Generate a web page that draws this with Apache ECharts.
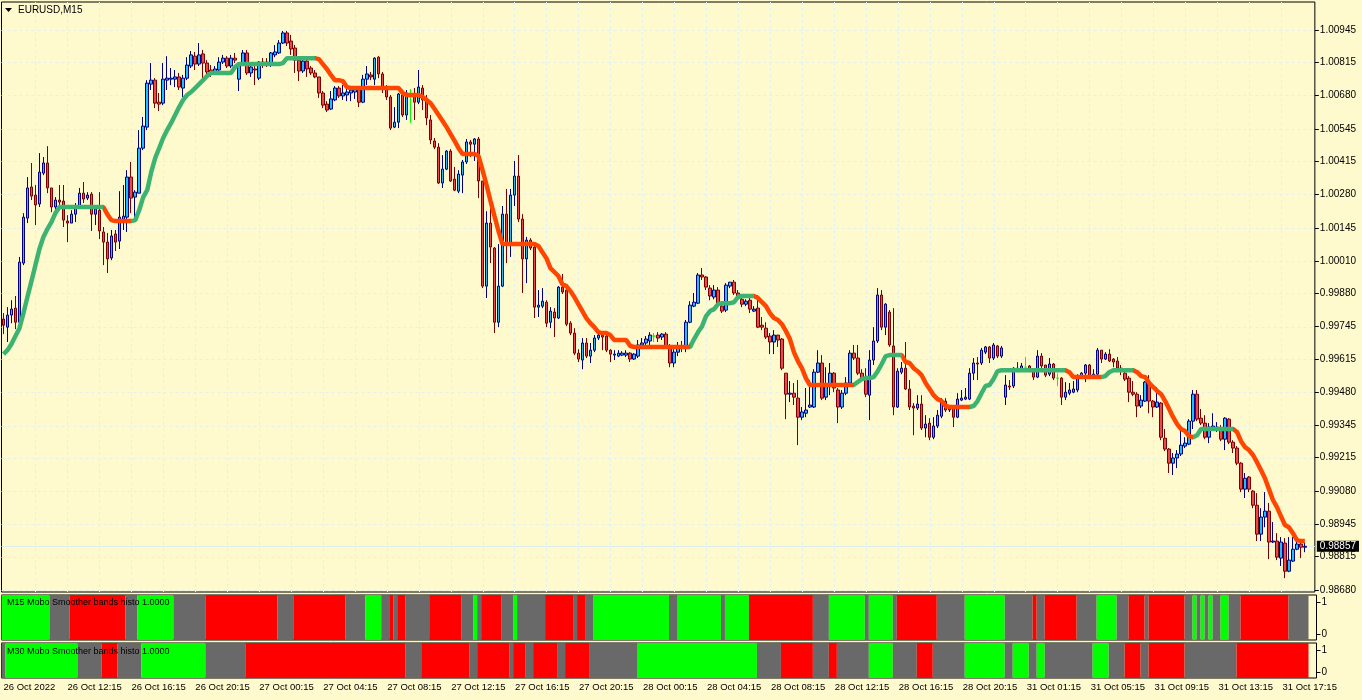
<!DOCTYPE html>
<html><head><meta charset="utf-8">
<script src="https://cdn.jsdelivr.net/npm/echarts@6/dist/echarts.min.js"></script>
<style>html,body{margin:0;padding:0;background:#FFFACD;}#c{width:1362px;height:700px;}</style>
</head><body><div id="c"></div>
<script>
// ---- DATA (prices in points, 1 point = 0.00001) ----
const priceTicks = [1.00945,1.00815,1.00680,1.00545,1.00415,1.00280,1.00145,1.00010,0.99880,0.99745,0.99615,0.99480,0.99345,0.99215,0.99080,0.98945,0.98815,0.98680];
const timeLabels = ["26 Oct 2022","26 Oct 12:15","26 Oct 16:15","26 Oct 20:15","27 Oct 00:15","27 Oct 04:15","27 Oct 08:15","27 Oct 12:15","27 Oct 16:15","27 Oct 20:15","28 Oct 00:15","28 Oct 04:15","28 Oct 08:15","28 Oct 12:15","28 Oct 16:15","28 Oct 20:15","31 Oct 01:15","31 Oct 05:15","31 Oct 09:15","31 Oct 13:15","31 Oct 17:15"];
const lastPrice = 0.98857;

const openPts = [
99776,99743,99792,99820,99763,100002,100184,100310,100277,100241,
100366,100407,100306,100229,100257,100253,100172,100164,100200,100225,
100285,100265,100281,100200,100216,100128,100087,100023,100120,100091,
100176,100188,100350,100269,100285,100467,100552,100726,100742,100653,
100649,100742,100746,100746,100755,100710,100750,100799,100839,100807,
100848,100811,100783,100771,100783,100815,100831,100799,100831,100746,
100811,100852,100771,100787,100750,100815,100815,100803,100844,100852,
100892,100933,100900,100872,100823,100779,100819,100791,100771,100755,
100690,100645,100625,100662,100710,100678,100682,100690,100694,100706,
100653,100746,100763,100746,100835,100767,100714,100674,100552,100572,
100682,100601,100674,100682,100653,100710,100662,100581,100496,100471,
100326,100382,100455,100342,100293,100358,100411,100492,100483,100504,
100334,99909,100164,100063,99763,99909,100200,100079,100277,100354,
100180,100019,100095,100067,99824,99828,99844,99763,99804,99780,
99905,99893,99759,99719,99638,99610,99679,99626,99650,99699,
99711,99707,99650,99630,99626,99630,99630,99638,99614,99626,
99671,99679,99687,99707,99711,99703,99715,99667,99598,99642,
99667,99659,99763,99828,99840,99954,99946,99901,99865,99893,
99828,99812,99909,99925,99881,99856,99836,99852,99808,99820,
99751,99739,99707,99683,99711,99695,99557,99472,99476,99456,
99379,99395,99420,99420,99561,99598,99460,99505,99557,99489,
99420,99476,99517,99638,99618,99557,99537,99468,99610,99687,
99873,99743,99804,99667,99420,99561,99577,99493,99424,99416,
99432,99335,99355,99298,99343,99383,99444,99408,99416,99379,
99448,99452,99452,99557,99598,99598,99642,99663,99618,99667,
99626,99460,99505,99505,99577,99573,99581,99586,99573,99541,
99626,99590,99553,99594,99537,99537,99460,99476,99480,99489,
99545,99557,99590,99545,99553,99650,99614,99634,99614,99606,
99577,99557,99537,99480,99472,99424,99444,99521,99444,99420,
99436,99294,99250,99193,99214,99230,99262,99270,99363,99472,
99375,99355,99298,99335,99327,99331,99290,99371,99278,99254,
99193,99088,99137,99080,99023,98906,98975,98999,98874,98878,
98809,98870,98756,98797,98845,98866,98853];

const highPts = [
99800,99824,99852,99869,100027,100204,100350,100407,100318,100447,
100431,100475,100306,100269,100318,100318,100196,100216,100245,100306,
100330,100289,100289,100221,100289,100148,100124,100136,100136,100293,
100318,100378,100411,100297,100540,100593,100742,100811,100750,100690,
100811,100839,100791,100783,100771,100763,100835,100860,100856,100892,
100864,100823,100803,100799,100835,100844,100839,100844,100852,100815,
100864,100864,100811,100811,100819,100831,100831,100856,100884,100904,
100941,100941,100925,100884,100827,100827,100839,100799,100783,100755,
100698,100657,100698,100718,100718,100722,100710,100714,100714,100714,
100763,100799,100775,100835,100839,100775,100722,100682,100633,100690,
100694,100702,100706,100710,100783,100722,100682,100601,100508,100487,
100439,100459,100463,100391,100378,100419,100504,100500,100508,100512,
100334,100212,100233,100067,100079,100233,100302,100302,100415,100439,
100200,100108,100103,100075,99893,99901,99852,99824,99820,99909,
99958,99901,99767,99739,99654,99699,99699,99679,99711,99731,
99719,99719,99654,99650,99650,99646,99650,99642,99638,99691,
99699,99707,99723,99719,99723,99719,99723,99675,99654,99683,
99687,99772,99848,99881,99962,99982,99950,99913,99913,99905,
99832,99921,99925,99934,99893,99865,99856,99861,99828,99873,
99784,99763,99719,99731,99711,99699,99557,99525,99517,99529,
99420,99497,99529,99573,99650,99630,99581,99598,99561,99497,
99489,99541,99650,99671,99671,99573,99577,99650,99743,99901,
99893,99840,99812,99820,99577,99602,99683,99529,99436,99468,
99468,99387,99375,99379,99408,99456,99456,99428,99428,99476,
99489,99497,99577,99618,99622,99659,99667,99667,99679,99671,
99667,99549,99529,99581,99602,99598,99622,99590,99577,99650,
99638,99590,99618,99598,99557,99541,99521,99517,99525,99553,
99561,99594,99594,99573,99659,99650,99642,99654,99618,99622,
99590,99561,99545,99525,99480,99468,99525,99549,99448,99501,
99440,99331,99254,99234,99246,99323,99298,99371,99489,99489,
99412,99387,99355,99395,99359,99347,99379,99375,99286,99262,
99197,99153,99141,99084,99072,99011,99076,99032,98955,98910,
98894,98890,98894,98894,98882,98886,98870];

const lowPts = [
99715,99683,99759,99735,99751,99994,100164,100257,100156,100229,
100358,100285,100208,100208,100216,100148,100087,100164,100168,100221,
100245,100257,100132,100156,100099,99994,99962,100014,100051,100059,
100136,100128,100204,100176,100285,100459,100540,100702,100629,100617,
100641,100702,100722,100714,100702,100674,100742,100791,100783,100799,
100750,100763,100755,100763,100775,100807,100791,100791,100811,100698,
100807,100763,100755,100722,100742,100791,100795,100795,100835,100848,
100888,100880,100844,100771,100738,100771,100755,100763,100750,100670,
100629,100613,100621,100657,100670,100662,100657,100657,100666,100633,
100649,100722,100742,100722,100750,100690,100662,100540,100548,100548,
100593,100581,100569,100581,100645,100621,100560,100483,100463,100322,
100306,100378,100330,100293,100285,100285,100403,100431,100415,100265,
99901,99861,100002,99719,99743,99905,100002,100027,100233,100168,
99881,99921,100055,99780,99784,99820,99743,99739,99703,99776,
99877,99747,99711,99630,99602,99573,99618,99598,99642,99691,
99650,99642,99602,99610,99622,99626,99622,99602,99610,99618,
99663,99671,99671,99683,99683,99691,99659,99581,99581,99626,
99642,99642,99759,99824,99836,99934,99893,99852,99856,99832,
99800,99804,99901,99873,99852,99824,99828,99800,99804,99739,
99731,99695,99634,99634,99663,99569,99371,99440,99428,99266,
99367,99379,99416,99416,99557,99448,99448,99468,99480,99355,
99412,99468,99509,99610,99549,99529,99460,99367,99590,99679,
99731,99711,99663,99387,99416,99553,99489,99408,99306,99408,
99327,99298,99286,99290,99335,99375,99400,99400,99339,99375,
99444,99448,99448,99529,99529,99590,99634,99598,99610,99618,
99618,99428,99489,99497,99561,99569,99569,99561,99529,99537,
99577,99541,99545,99529,99505,99428,99448,99468,99476,99480,
99537,99521,99533,99537,99549,99598,99610,99602,99581,99569,
99549,99525,99440,99464,99379,99416,99440,99395,99379,99416,
99286,99242,99153,99145,99173,99222,99254,99266,99331,99363,
99347,99290,99274,99331,99319,99282,99246,99270,99234,99185,
99076,99052,99076,99011,98878,98878,98934,98805,98870,98801,
98777,98728,98752,98793,98841,98809,98833];

const closePts = [
99751,99792,99816,99763,100006,100188,100306,100273,100237,100370,
100407,100306,100229,100257,100249,100176,100164,100200,100225,100285,
100261,100277,100200,100221,100132,100087,100019,100112,100087,100188,
100192,100350,100265,100289,100467,100556,100730,100742,100649,100645,
100746,100750,100750,100755,100714,100750,100803,100844,100807,100844,
100811,100775,100771,100787,100815,100831,100799,100831,100823,100811,
100852,100771,100795,100783,100815,100803,100807,100852,100856,100892,
100933,100892,100868,100823,100779,100819,100787,100771,100755,100690,
100641,100621,100666,100710,100678,100690,100694,100702,100706,100653,
100746,100767,100755,100831,100767,100714,100674,100548,100572,100686,
100601,100690,100674,100653,100714,100662,100589,100500,100471,100326,
100382,100455,100334,100297,100362,100411,100492,100483,100504,100334,
99909,100164,100067,99763,99909,100200,100079,100277,100354,100180,
100019,100095,100063,99824,99832,99848,99759,99808,99780,99905,
99885,99755,99719,99638,99614,99679,99626,99650,99699,99711,
99703,99650,99634,99634,99638,99638,99638,99614,99634,99671,
99679,99695,99711,99707,99699,99715,99667,99598,99642,99663,
99659,99763,99832,99844,99954,99946,99905,99869,99893,99840,
99808,99913,99925,99881,99861,99836,99848,99816,99816,99743,
99743,99703,99683,99711,99691,99577,99472,99476,99460,99379,
99400,99408,99428,99561,99598,99456,99509,99557,99497,99420,
99476,99517,99638,99618,99557,99537,99472,99610,99687,99873,
99743,99836,99671,99420,99565,99577,99493,99420,99416,99432,
99335,99351,99298,99343,99387,99440,99408,99416,99379,99452,
99456,99460,99557,99598,99594,99650,99663,99618,99671,99626,
99659,99509,99501,99577,99569,99586,99581,99573,99541,99626,
99586,99549,99594,99537,99537,99460,99480,99489,99493,99545,
99557,99590,99541,99553,99650,99614,99634,99606,99602,99577,
99565,99533,99480,99472,99424,99448,99521,99444,99420,99440,
99298,99250,99193,99214,99230,99266,99274,99363,99472,99371,
99355,99298,99339,99343,99339,99290,99375,99278,99254,99193,
99088,99132,99088,99023,98906,98975,98999,98874,98878,98813,
98874,98756,98801,98845,98866,98853,98857];

const smootherPts = [
99634,99650,99675,99707,99739,99800,99865,99929,99994,100059,
100108,100140,100168,100204,100229,100229,100229,100229,100229,100229,
100229,100229,100229,100229,100229,100229,100200,100176,100172,100172,
100172,100172,100172,100176,100216,100269,100297,100370,100427,100467,
100508,100540,100569,100601,100633,100662,100682,100694,100710,100726,
100742,100759,100771,100771,100771,100771,100771,100771,100795,100807,
100807,100807,100807,100807,100807,100807,100807,100807,100807,100807,
100811,100831,100831,100831,100831,100831,100831,100831,100831,100827,
100807,100787,100763,100742,100742,100738,100714,100710,100710,100710,
100710,100710,100710,100710,100710,100710,100710,100710,100710,100710,
100690,100682,100682,100682,100682,100674,100662,100649,100625,100601,
100577,100552,100524,100496,100467,100443,100443,100443,100443,100435,
100378,100318,100253,100192,100132,100079,100079,100079,100079,100079,
100079,100079,100079,100079,100071,100046,100022,99982,99966,99950,
99917,99909,99889,99865,99836,99808,99780,99759,99743,99723,
99719,99719,99711,99691,99691,99691,99691,99667,99663,99663,
99663,99663,99663,99663,99663,99663,99663,99663,99663,99663,
99663,99663,99663,99695,99723,99747,99788,99808,99816,99836,
99840,99840,99840,99844,99865,99869,99869,99869,99869,99861,
99844,99828,99800,99780,99772,99755,99727,99695,99642,99606,
99577,99537,99509,99509,99509,99509,99509,99509,99509,99509,
99509,99509,99509,99509,99521,99533,99537,99537,99541,99565,
99594,99626,99630,99630,99630,99630,99602,99598,99577,99565,
99549,99517,99493,99468,99452,99444,99424,99420,99420,99420,
99420,99420,99420,99424,99444,99476,99505,99509,99533,99565,
99569,99569,99569,99569,99569,99569,99569,99569,99569,99569,
99569,99569,99569,99569,99569,99569,99569,99561,99541,99541,
99541,99541,99541,99541,99541,99541,99545,99561,99569,99569,
99569,99569,99569,99569,99561,99545,99541,99517,99501,99485,
99472,99444,99412,99379,99351,99331,99323,99302,99298,99306,
99331,99331,99331,99331,99331,99331,99331,99331,99331,99319,
99282,99258,99246,99226,99197,99165,99132,99088,99044,99015,
98979,98943,98934,98910,98882,98878,98878];

// histogram states as runs: [state, bars]  1 = up (green), -1 = down (red), 0 = neutral (gray)
const m15Runs = [[1,12],[0,5],[-1,14],[0,3],[1,9],[0,8],[-1,18],[0,4],[-1,13],[0,5],[1,4],[0,2],[-1,1],[0,1],[-1,2],[0,6],[-1,8],[0,3],[1,1],[0,1],[-1,5],[0,3],[1,1],[0,7],[-1,7],[0,1],[-1,2],[0,2],[1,19],[0,2],[1,11],[0,1],[1,6],[-1,16],[0,4],[1,9],[0,1],[1,6],[0,1],[-1,10],[0,7],[1,10],[0,7],[-1,1],[0,2],[-1,8],[0,5],[1,5],[0,3],[-1,4],[0,1],[-1,9],[0,2],[1,1],[0,1],[1,1],[0,1],[1,1],[0,2],[1,2],[0,3],[-1,12],[0,5]];
const m30Runs = [[0,1],[1,18],[0,6],[-1,4],[0,6],[1,16],[0,10],[-1,40],[0,4],[-1,12],[0,2],[-1,8],[0,1],[-1,3],[0,2],[-1,6],[0,2],[-1,6],[0,12],[1,30],[0,6],[-1,8],[0,4],[-1,2],[0,8],[1,6],[0,6],[-1,4],[0,8],[1,10],[0,2],[1,4],[0,2],[1,2],[0,12],[1,4],[0,4],[-1,4],[0,2],[-1,9],[0,13],[-1,18]];

// ---- BUILD ----
const N_SLOTS = 329;
const cats = Array.from({length: N_SLOTS}, (_, i) => String(i));
const P = v => v / 1e5;
const candles = openPts.map((o, i) => [P(o), P(closePts[i]), P(lowPts[i]), P(highPts[i])]);
const smoother = smootherPts.map(P);

const GREEN = '#3CB371', ORANGE = '#FF4500';
const state = [];
smoother.forEach((v, i) => {
  if (i === 0) state.push(1);
  else if (v > smoother[i-1]) state.push(1);
  else if (v < smoother[i-1]) state.push(-1);
  else state.push(state[i-1]);
});
const pieces = [];
let a = 0;
for (let i = 1; i <= state.length; i++) {
  if (i === state.length || state[i] !== state[a]) {
    pieces.push({gt: a === 0 ? -10 : a - 1, lte: i === state.length ? 1000 : i - 1, color: state[a] === 1 ? GREEN : ORANGE});
    a = i;
  }
}

function runsToItems(runs) {
  let s = 0;
  return runs.map(([st, n]) => { const it = [s, st, s + n - 1]; s += n; return it; });
}
const bandColor = {'1': '#00FF00', '-1': '#FF0000', '0': '#696969'};
function bandRender(params, api) {
  const s = api.coord([api.value(0), 0]);
  const e = api.coord([api.value(2), 0]);
  const w = api.size([1, 0])[0];
  const cs = params.coordSys;
  return {type: 'rect', shape: {x: s[0] - w/2, y: cs.y, width: e[0] - s[0] + w, height: cs.height},
    style: {fill: bandColor[String(api.value(1))]}};
}

const gridLineColor = '#E2F1EC';
const vIdx = [];
for (let i = 8; i <= 320; i += 8) vIdx.push([i, 1.0]);
function vLine(params, api) {
  const x = Math.round(api.coord([api.value(0), api.value(1)])[0]) + 0.5;
  const cs = params.coordSys;
  return {type: 'line', shape: {x1: x, y1: cs.y, x2: x, y2: cs.y + cs.height},
    style: {stroke: gridLineColor, lineWidth: 1, lineDash: [3, 3]}};
}
function hLine(params, api) {
  const y = Math.round(api.coord([0, api.value(1)])[1]) + 0.5;
  const cs = params.coordSys;
  const solid = api.value(2) === 1;
  return {type: 'line', shape: {x1: cs.x, y1: y, x2: cs.x + cs.width, y2: y},
    style: {stroke: solid ? '#DCEFEA' : gridLineColor, lineWidth: 1, lineDash: solid ? null : [3, 3]}};
}

const FONT = '"Liberation Sans", Arial, sans-serif';
const gridCommon = {left: 1.5, width: 1315, show: true, borderColor: '#000', borderWidth: 1, backgroundColor: 'transparent'};
const hiddenX = (gi) => ({type: 'category', gridIndex: gi, data: cats, boundaryGap: true,
  axisLine: {show: false}, axisTick: {show: false}, axisLabel: {show: false}, splitLine: {show: false}});

const chart = echarts.init(document.getElementById('c'), null, {renderer: 'canvas'});
chart.setOption({
  animation: false,
  backgroundColor: '#FFFACD',
  textStyle: {fontFamily: FONT},
  grid: [
    Object.assign({top: 2, height: 590}, gridCommon),
    Object.assign({top: 595, height: 45}, gridCommon),
    Object.assign({top: 643, height: 35}, gridCommon)
  ],
  xAxis: [
    hiddenX(0), hiddenX(1),
    {type: 'category', gridIndex: 2, data: cats, boundaryGap: true,
      axisLine: {show: false},
      axisTick: {show: true, alignWithLabel: true, length: 3, interval: (i) => i % 16 === 0 && i <= 320, lineStyle: {color: '#000'}},
      axisLabel: {show: true, interval: (i) => i % 16 === 0 && i <= 320, align: 'left', margin: 4,
        fontSize: 9.5, color: '#000', fontFamily: FONT,
        formatter: (v, idx) => timeLabels[Math.round(idx / 16)] || ''},
      splitLine: {show: false}}
  ],
  yAxis: [
    {type: 'value', gridIndex: 0, position: 'right', min: 0.98672, max: 1.01058,
      axisLine: {show: false}, splitLine: {show: false},
      axisTick: {show: true, length: 4, customValues: priceTicks, lineStyle: {color: '#000'}},
      axisLabel: {show: true, customValues: priceTicks, margin: 5, fontSize: 10, color: '#000', fontFamily: FONT,
        formatter: (v) => v.toFixed(5)}},
    {type: 'value', gridIndex: 1, position: 'right', min: -0.18, max: 1.244,
      axisLine: {show: false}, splitLine: {show: false},
      axisTick: {show: true, length: 4, customValues: [0, 1], lineStyle: {color: '#000'}},
      axisLabel: {show: true, customValues: [0, 1], margin: 5, fontSize: 10, color: '#000', fontFamily: FONT}},
    {type: 'value', gridIndex: 2, position: 'right', min: -0.24, max: 1.35,
      axisLine: {show: false}, splitLine: {show: false},
      axisTick: {show: true, length: 4, customValues: [0, 1], lineStyle: {color: '#000'}},
      axisLabel: {show: true, customValues: [0, 1], margin: 5, fontSize: 10, color: '#000', fontFamily: FONT}},
    {type: 'value', gridIndex: 0, position: 'right', min: 0.98672, max: 1.01058, z: 10,
      axisLine: {show: false}, splitLine: {show: false}, axisTick: {show: false},
      axisLabel: {show: true, customValues: [lastPrice], margin: 2, fontSize: 10, color: '#fff', fontFamily: FONT,
        backgroundColor: '#000', padding: [1, 3, 0, 3], formatter: (v) => v.toFixed(5)}}
  ],
  visualMap: [{type: 'piecewise', show: false, dimension: 0, seriesIndex: 4, pieces: pieces, outOfRange: {color: GREEN}}],
  series: [
    {type: 'custom', xAxisIndex: 0, yAxisIndex: 0, z: 1, silent: true, renderItem: vLine, data: vIdx},
    {type: 'custom', xAxisIndex: 0, yAxisIndex: 0, z: 1, silent: true, renderItem: hLine, data: priceTicks.map(p => [0, p, 0])},
    {type: 'custom', xAxisIndex: 0, yAxisIndex: 0, z: 1, silent: true, renderItem: hLine, data: [[0, lastPrice, 1]]},
    {type: 'candlestick', xAxisIndex: 0, yAxisIndex: 0, z: 3, barWidth: 3, data: candles,
      itemStyle: {color: '#1EBEFF', color0: '#E84A4A', borderColor: '#000080', borderColor0: '#7A0000', borderColorDoji: '#00FF00', borderWidth: 1}},
    {type: 'line', xAxisIndex: 0, yAxisIndex: 0, z: 4, showSymbol: false, symbol: 'none',
      data: smoother.map((v, i) => [i, v]), lineStyle: {width: 4.5}},
    {type: 'custom', xAxisIndex: 1, yAxisIndex: 1, z: 2, silent: true, renderItem: bandRender, data: runsToItems(m15Runs)},
    {type: 'custom', xAxisIndex: 2, yAxisIndex: 2, z: 2, silent: true, renderItem: bandRender, data: runsToItems(m30Runs)}
  ],
  graphic: [
    {type: 'polygon', left: 5, top: 8, shape: {points: [[0, 0], [7, 0], [3.5, 4]]}, style: {fill: '#000'}, z: 100},
    {type: 'text', left: 18, top: 5, z: 100, style: {text: 'EURUSD,M15', fill: '#000', font: '10px ' + FONT}},
    {type: 'text', left: 7, top: 598, z: 100, style: {text: 'M15 Mobo Smoother bands histo 1.0000', fill: '#000', font: '9px ' + FONT}},
    {type: 'text', left: 7, top: 647, z: 100, style: {text: 'M30 Mobo Smoother bands histo 1.0000', fill: '#000', font: '9px ' + FONT}}
  ]
});
</script>
</body></html>
